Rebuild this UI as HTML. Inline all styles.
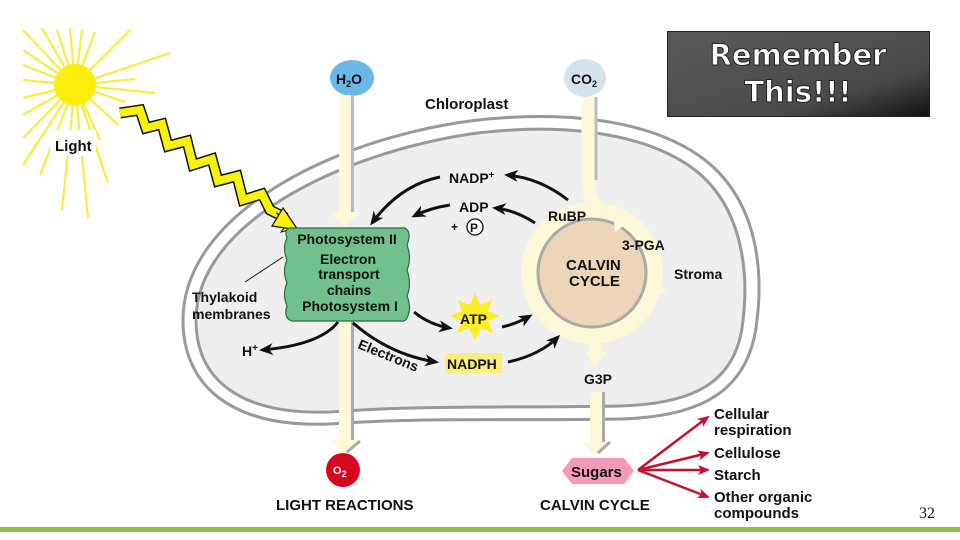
<!DOCTYPE html>
<html><head><meta charset="utf-8"><style>
body{margin:0;width:960px;height:540px;overflow:hidden;background:#fff}
svg{display:block}
text{font-family:"Liberation Sans",Arial,sans-serif;font-weight:bold;fill:#111}
</style></head><body>
<svg width="960" height="540" viewBox="0 0 960 540" xmlns="http://www.w3.org/2000/svg">
<defs>
<marker id="ah" markerWidth="8" markerHeight="8" refX="6" refY="4" orient="auto" markerUnits="userSpaceOnUse" viewBox="0 0 8 8"><path d="M0,0 L8,4 L0,8 L2,4 Z" fill="#111"/></marker>
<marker id="ar" markerWidth="12" markerHeight="10" refX="10" refY="5" orient="auto" markerUnits="userSpaceOnUse"><path d="M0,0 L12,5 L0,10 L3,5 Z" fill="#c8102e"/></marker>
<marker id="ab" markerWidth="14" markerHeight="12" refX="11" refY="6" orient="auto" markerUnits="userSpaceOnUse"><path d="M0,0 L14,6 L0,12 L4,6 Z" fill="#111"/></marker>
<linearGradient id="rg" x1="0" y1="0" x2="1" y2="1"><stop offset="0" stop-color="#5a5a5a"/><stop offset="0.7" stop-color="#4a4a4a"/><stop offset="1" stop-color="#111"/></linearGradient>
</defs>

<!-- sun rays -->
<g stroke="#f6ee3c" stroke-width="2.2">
<line x1="75" y1="85" x2="23" y2="30"/><line x1="75" y1="85" x2="42" y2="28"/><line x1="75" y1="85" x2="57" y2="30"/><line x1="75" y1="85" x2="70" y2="28"/><line x1="75" y1="85" x2="82" y2="30"/><line x1="75" y1="85" x2="95" y2="32"/><line x1="75" y1="85" x2="130" y2="30"/><line x1="75" y1="85" x2="170" y2="53"/><line x1="75" y1="85" x2="135" y2="79"/><line x1="75" y1="85" x2="155" y2="93"/><line x1="75" y1="85" x2="125" y2="102"/><line x1="75" y1="85" x2="118" y2="125"/><line x1="75" y1="85" x2="108" y2="183"/><line x1="75" y1="85" x2="88" y2="218"/><line x1="75" y1="85" x2="62" y2="210"/><line x1="75" y1="85" x2="40" y2="175"/><line x1="75" y1="85" x2="23" y2="165"/><line x1="75" y1="85" x2="23" y2="138"/><line x1="75" y1="85" x2="23" y2="115"/><line x1="75" y1="85" x2="23" y2="98"/><line x1="75" y1="85" x2="23" y2="80"/><line x1="75" y1="85" x2="23" y2="65"/><line x1="75" y1="85" x2="23" y2="50"/><line x1="75" y1="85" x2="100" y2="140"/>
</g>
<rect x="50" y="130" width="46" height="26" fill="#fff"/>
<circle cx="75" cy="85" r="21" fill="#fcee0a"/>
<text x="55" y="151" font-size="15">Light</text>

<!-- chloroplast -->
<path d="M183,320 C183,215 330,140 470,121 C560,110 650,118 705,160 C762,205 762,280 757,320 C750,392 700,417 620,419 C520,421 420,417 330,424 C230,428 183,385 183,320 Z" fill="#fff" stroke="#999" stroke-width="3"/>
<path d="M196,320 C196,225 335,155 470,134 C560,122 645,132 695,170 C746,210 748,280 743,320 C737,385 690,404 620,406 C520,408 420,405 330,412 C240,415 196,380 196,320 Z" fill="#efefef" stroke="#999" stroke-width="3"/>

<!-- lightning -->
<g fill="none" stroke-linejoin="miter">
<polyline points="120,113 140,110 146,128 162,124 168,146 187,141 193,165 212,159 218,181 237,176 243,200 262,194 270,210 286,218" stroke="#111" stroke-width="11"/>
<polyline points="120,113 140,110 146,128 162,124 168,146 187,141 193,165 212,159 218,181 237,176 243,200 262,194 270,210 286,218" stroke="#f9f207" stroke-width="8"/>
</g>
<polygon points="276,213 297,228 281,232 290,220 " fill="#f9f207" stroke="#111" stroke-width="1"/>
<polygon points="283,208 298,230 272,226" fill="#f9f207" stroke="#111" stroke-width="1.2"/>

<!-- H2O / CO2 -->
<ellipse cx="352" cy="78" rx="22" ry="18" fill="#6ab8e8"/>
<text x="336" y="84" font-size="14">H<tspan font-size="9" dy="3">2</tspan><tspan dy="-3">O</tspan></text>
<ellipse cx="585" cy="78" rx="21" ry="19" fill="#d3e3ee"/>
<text x="571" y="84" font-size="14">CO<tspan font-size="9" dy="3">2</tspan></text>

<!-- water vertical arrow -->
<rect x="339" y="95" width="12" height="120" fill="#fdf8d8"/>
<rect x="351" y="95" width="3" height="120" fill="#bbb"/>
<polygon points="331,212 359,212 345,228" fill="#fdf8d8"/>
<rect x="339" y="320" width="12" height="122" fill="#fdf8d8"/>
<rect x="351" y="320" width="3" height="120" fill="#aaa"/>
<polygon points="331,440 359,440 345,455" fill="#fdf8d8"/>
<line x1="347" y1="452" x2="360" y2="441" stroke="#aaa" stroke-width="3"/>
<circle cx="343" cy="470" r="17" fill="#d8061e"/>
<text x="333" y="474" font-size="11" style="fill:#fff">O<tspan font-size="9" dy="3">2</tspan></text>
<text x="276" y="510" font-size="15">LIGHT REACTIONS</text>

<!-- CO2 arrow into calvin -->
<path d="M588,97 L588,180 Q588,200 600,210 L615,218" fill="none" stroke="#fdf8d8" stroke-width="13"/>
<line x1="596" y1="97" x2="596" y2="180" stroke="#bbb" stroke-width="3"/>

<!-- calvin ring -->
<circle cx="592" cy="273" r="62" fill="none" stroke="#fdf8d8" stroke-width="18"/>
<circle cx="592" cy="273" r="54" fill="#ecd5b8" stroke="#aaa" stroke-width="3"/>
<polygon points="612,205 635,218 615,232" fill="#fdf8d8"/>
<polygon points="647,282 667,290 648,302" fill="#fdf8d8"/>
<text x="566" y="270" font-size="15">CALVIN</text>
<text x="569" y="286" font-size="15">CYCLE</text>
<text x="548" y="221" font-size="14">RuBP</text>
<text x="622" y="250" font-size="14">3-PGA</text>
<text x="674" y="279" font-size="14">Stroma</text>
<text x="425" y="109" font-size="15">Chloroplast</text>

<!-- G3P arrow -->
<rect x="589" y="335" width="12" height="20" fill="#fdf8d8"/>
<polygon points="584,352 606,352 595,367" fill="#fdf8d8"/>
<text x="584" y="384" font-size="14">G3P</text>
<rect x="590" y="392" width="12" height="52" fill="#fdf8d8"/>
<rect x="602" y="392" width="3" height="52" fill="#aaa"/>
<polygon points="582,442 610,442 596,456" fill="#fdf8d8"/>
<line x1="598" y1="453" x2="610" y2="442" stroke="#aaa" stroke-width="3"/>
<polygon points="562,471 572,458 624,458 634,471 624,484 572,484" fill="#f49ab8"/>
<text x="571" y="477" font-size="15">Sugars</text>
<text x="540" y="510" font-size="15">CALVIN CYCLE</text>

<!-- red arrows -->
<g stroke="#c8102e" stroke-width="2.5" fill="none" marker-end="url(#ar)">
<line x1="638" y1="470" x2="708" y2="417"/>
<line x1="638" y1="470" x2="708" y2="453"/>
<line x1="638" y1="470" x2="708" y2="470"/>
<line x1="638" y1="470" x2="708" y2="497"/>
</g>
<text x="714" y="419" font-size="15">Cellular</text>
<text x="714" y="435" font-size="15">respiration</text>
<text x="714" y="458" font-size="15">Cellulose</text>
<text x="714" y="480" font-size="15">Starch</text>
<text x="714" y="502" font-size="15">Other organic</text>
<text x="714" y="518" font-size="15">compounds</text>

<!-- green box -->
<path d="M290,228 L405,228 Q412,232 407,245 Q412,258 407,270 Q412,284 407,296 Q412,308 407,318 Q405,322 400,321 L292,321 Q283,318 287,306 Q282,294 287,283 Q282,271 287,260 Q282,248 287,238 Q284,229 290,228 Z" fill="#72c08c" stroke="#2a6a40" stroke-width="1.2"/>
<text x="347" y="244" font-size="14" text-anchor="middle">Photosystem II</text>
<text x="348" y="264" font-size="14" text-anchor="middle">Electron</text>
<text x="349" y="279" font-size="14" text-anchor="middle">transport</text>
<text x="349" y="295" font-size="14" text-anchor="middle">chains</text>
<text x="350" y="311" font-size="14" text-anchor="middle">Photosystem I</text>
<line x1="245" y1="282" x2="283" y2="257" stroke="#111" stroke-width="1"/>
<text x="192" y="302" font-size="14">Thylakoid</text>
<text x="192" y="319" font-size="14">membranes</text>

<!-- black arrows -->
<g stroke="#111" stroke-width="3" fill="none" marker-end="url(#ab)">
<path d="M440,177 Q400,185 372,223"/>
<path d="M568,200 Q540,178 507,175"/>
<path d="M450,205 Q430,208 414,216"/>
<path d="M535,223 Q515,210 495,208"/>
<path d="M414,312 Q430,325 450,328"/>
<path d="M502,327 Q516,324 530,316"/>
<path d="M353,323 Q390,355 436,362"/>
<path d="M508,362 Q540,355 558,337"/>
<path d="M338,322 Q320,345 262,350"/>
</g>
<text x="449" y="183" font-size="14">NADP<tspan font-size="10" dy="-5">+</tspan></text>
<text x="459" y="212" font-size="14">ADP</text>
<text x="451" y="231" font-size="12">+</text>
<circle cx="475" cy="227" r="8" fill="#fff" stroke="#111" stroke-width="1.3"/>
<text x="470" y="232" font-size="12">P</text>
<polygon points="475,293 480,305 492,300 488,311 500,316 488,321 493,333 481,328 475,340 469,328 457,333 462,321 450,316 462,311 458,300 470,305" fill="#fcee21"/>
<text x="460" y="324" font-size="14">ATP</text>
<rect x="445" y="353" width="57" height="20" fill="#fcee7a"/>
<text x="447" y="369" font-size="14">NADPH</text>
<text x="357" y="348" font-size="14" transform="rotate(22 357 348)">Electrons</text>
<text x="242" y="356" font-size="14">H<tspan font-size="10" dy="-5">+</tspan></text>

<!-- Remember box -->
<rect x="667.5" y="31.5" width="262" height="85" fill="url(#rg)" stroke="#222"/>
<text x="798" y="65" font-size="29" text-anchor="middle" style="font-family:'DejaVu Sans','Liberation Sans',sans-serif;fill:#fff;stroke:#222;stroke-width:1">Remember</text>
<text x="798" y="102" font-size="29" text-anchor="middle" style="font-family:'DejaVu Sans','Liberation Sans',sans-serif;fill:#fff;stroke:#222;stroke-width:1">This!!!</text>

<text x="919" y="518" font-size="16" style="font-family:'Liberation Serif',serif;font-weight:normal">32</text>
<rect x="0" y="527" width="960" height="5" fill="#8dc04a"/>
</svg>
</body></html>
